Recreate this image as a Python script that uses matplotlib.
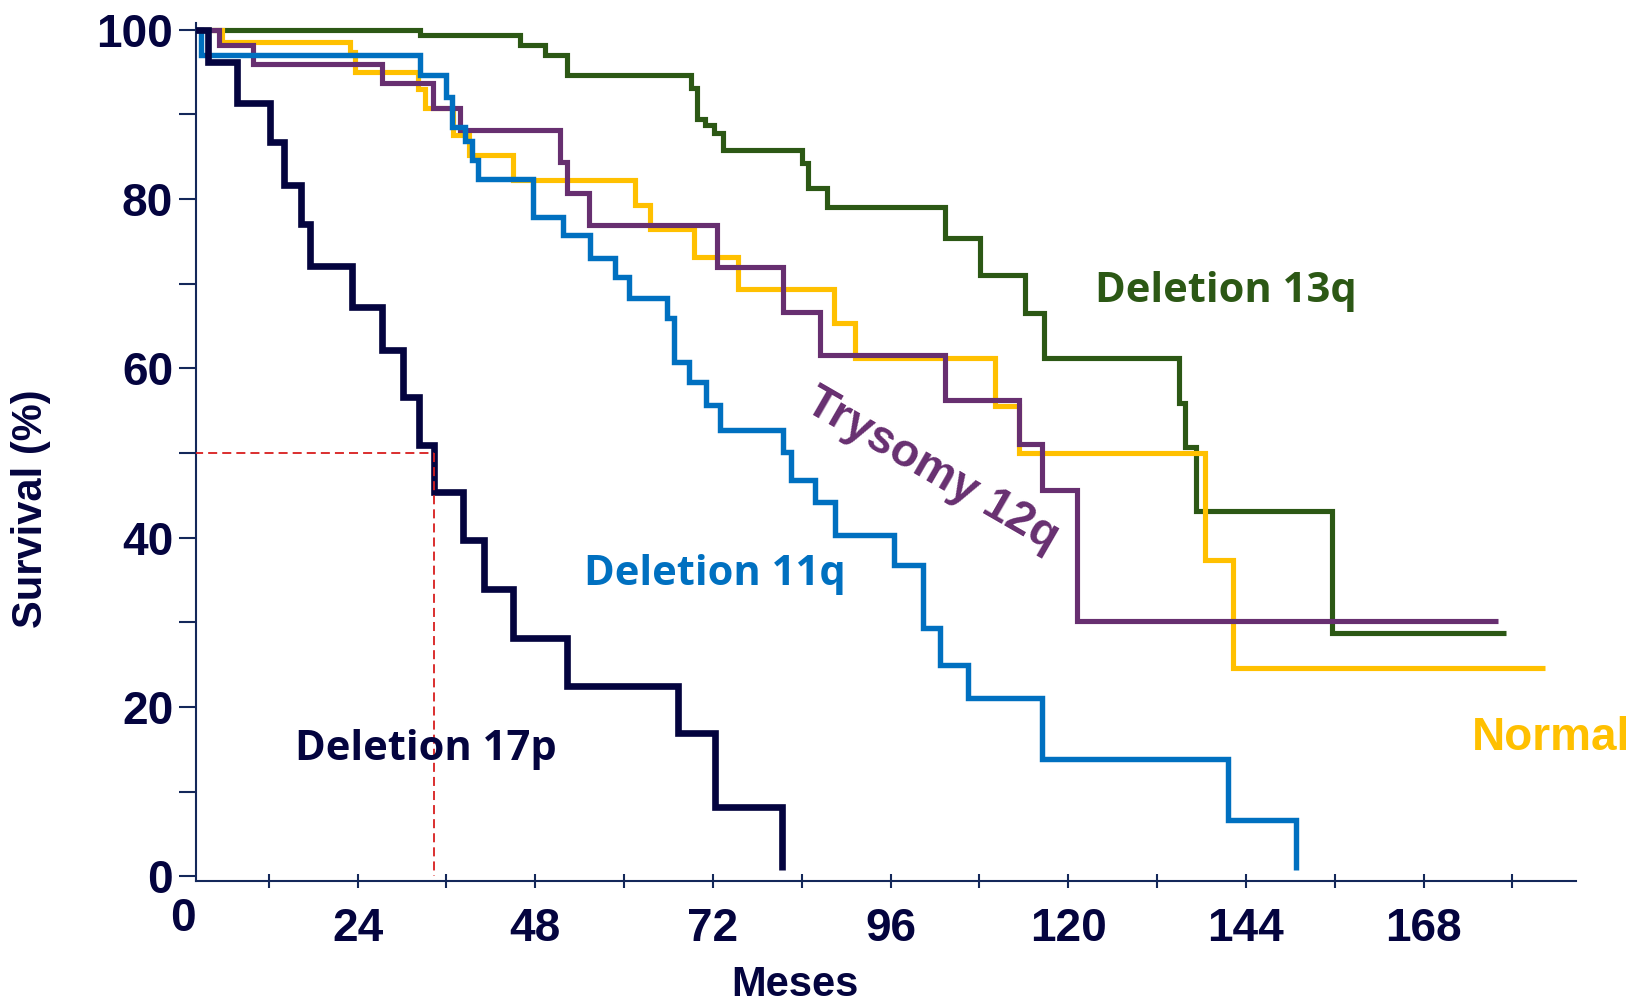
import numpy as np
import matplotlib
matplotlib.use("Agg")
import matplotlib.pyplot as plt
from matplotlib.ticker import FixedLocator, NullFormatter

# Kaplan-Meier overall survival by cytogenetic group: step times (months)
# and survival (%) right after each step.
del13q_t = [0, 32.4, 45.9, 49.3, 52.3, 69.1, 69.8, 70.9, 72.1, 73.3, 84.0, 84.8,
            87.4, 103.4, 108.1, 114.2, 116.7, 134.9, 135.8, 137.2, 155.6, 179.1]
del13q_s = [100, 99.4, 98.2, 97.0, 94.6, 93.1, 89.5, 88.7, 87.8, 85.8, 84.2, 81.3,
            79.1, 75.4, 71.0, 66.5, 61.2, 55.9, 50.7, 43.1, 28.7, 28.7]

normal_t = [0, 5.7, 23.0, 23.6, 32.1, 33.1, 36.9, 39.0, 45.0, 61.5, 63.5, 69.4,
            75.4, 88.3, 91.2, 110.1, 113.3, 138.5, 142.3, 184.4]
normal_s = [100, 98.6, 97.4, 95.0, 93.0, 90.7, 87.6, 85.2, 82.2, 79.3, 76.5, 73.2,
            69.4, 65.3, 61.2, 55.5, 50.0, 37.4, 24.6, 24.6]

tri12_t = [0, 5.3, 9.8, 27.3, 34.2, 37.8, 51.4, 52.3, 55.2, 72.5, 81.5, 86.5,
           103.4, 113.3, 116.4, 121.2, 178.1]
tri12_s = [100, 98.2, 96.0, 93.7, 90.8, 88.2, 84.4, 80.7, 76.9, 72.0, 66.7, 61.6,
           56.3, 51.1, 45.6, 30.1, 30.1]

del11q_t = [0, 2.9, 32.4, 36.0, 36.7, 38.5, 39.4, 40.3, 47.7, 51.8, 55.4, 58.8,
            60.7, 65.8, 66.8, 68.7, 71.1, 73.0, 81.5, 82.6, 85.8, 88.5, 96.4,
            100.4, 102.7, 106.5, 116.5, 141.6, 150.8]
del11q_s = [100, 97.0, 94.6, 92.1, 88.5, 86.8, 84.6, 82.4, 77.9, 75.7, 73.0, 70.8,
            68.3, 65.9, 60.8, 58.4, 55.7, 52.7, 50.1, 46.8, 44.2, 40.3, 36.8,
            29.3, 24.9, 21.0, 13.9, 6.6, 0.7]

del17p_t = [0, 3.8, 7.7, 12.1, 14.1, 16.4, 17.5, 23.3, 27.3, 30.1, 32.3, 34.3,
            38.2, 41.1, 45.0, 52.3, 67.3, 72.3, 81.3]
del17p_s = [100, 96.2, 91.4, 86.7, 81.7, 77.1, 72.1, 67.3, 62.2, 56.6, 50.9, 45.4,
            39.7, 33.9, 28.1, 22.5, 16.9, 8.2, 0.7]

median_17p = 34.3
median_level = 50

x_major = [24, 48, 72, 96, 120, 144, 168]
x_minor = [12, 36, 60, 84, 108, 132, 156, 180]
y_major = [0, 20, 40, 60, 80, 100]
y_minor = [10, 30, 50, 70, 90]

NAVY = "#04043f"
AXIS = "#14285a"
GREEN = "#2c5815"
GOLD = "#ffc000"
PURPLE = "#672f70"
BLUE = "#0070c0"
RED = "#d81e1e"

W, H = 1639, 1006
fig = plt.figure(figsize=(W / 100, H / 100), dpi=100)
ax = fig.add_axes([195.7 / W, 1 - 881 / H, (1576 - 195.7) / W, (881 - 23.3) / H])
ax.set_xlim(2.12, 188.6)
ax.set_ylim(-0.57, 100.76)

line_kw = dict(where="post", solid_joinstyle="miter", solid_capstyle="butt")
ax.step(del13q_t, del13q_s, color=GREEN, lw=3.7, zorder=3, **line_kw)
ax.step(normal_t, normal_s, color=GOLD, lw=3.7, zorder=4, **line_kw)
ax.step(tri12_t, tri12_s, color=PURPLE, lw=3.7, zorder=5, **line_kw)
ax.step(del11q_t, del11q_s, color=BLUE, lw=3.9, zorder=6, **line_kw)
ax.step(del17p_t, del17p_s, color=NAVY, lw=4.8, zorder=7, **line_kw)

# median survival guide for deletion 17p
dash = (0, (5.0, 2.8))
ax.plot([0, median_17p], [median_level, median_level], color=RED, lw=1.3,
        linestyle=dash, zorder=8)
ax.plot([median_17p, median_17p], [median_level, 0], color=RED, lw=1.3,
        linestyle=dash, zorder=8)

for side in ("top", "right"):
    ax.spines[side].set_visible(False)
for side in ("left", "bottom"):
    ax.spines[side].set_color(AXIS)
    ax.spines[side].set_linewidth(1.5)

tick_font = dict(family="Liberation Sans", weight="bold", size=33)
ax.xaxis.set_major_locator(FixedLocator(x_major))
ax.xaxis.set_minor_locator(FixedLocator(x_minor))
ax.yaxis.set_major_locator(FixedLocator(y_major))
ax.yaxis.set_minor_locator(FixedLocator(y_minor))
ax.xaxis.set_minor_formatter(NullFormatter())
ax.yaxis.set_minor_formatter(NullFormatter())
ax.set_xticklabels([str(v) for v in x_major], fontdict=tick_font, color=NAVY)
ax.set_yticklabels([str(v) for v in y_major], fontdict=tick_font, color=NAVY)
ax.tick_params(axis="x", which="both", direction="inout", length=10, width=1.5,
               color=AXIS, pad=14)
ax.tick_params(axis="y", which="both", direction="out", length=12.2, width=1.5,
               color=AXIS, pad=4)

# origin label on the time axis
fig.text(183 / W, 1 - 931 / H, "0", ha="center", va="baseline", color=NAVY,
         **tick_font)

lab_font = dict(family="Liberation Sans", weight="bold", size=30)
fig.text(31 / W, 1 - 509 / H, "Survival (%)", rotation=90, ha="center",
         va="center", color=NAVY, **lab_font)
fig.text(794.5 / W, 1 - 985 / H, "Meses", ha="center", va="center",
         color=NAVY, **lab_font)

grp_font = dict(family="Open Sans", weight="bold", size=30)
fig.text(1225.8 / W, 1 - 301.7 / H, "Deletion 13q", ha="center", va="baseline",
         color=GREEN, **grp_font)
fig.text(715 / W, 1 - 585 / H, "Deletion 11q", ha="center", va="baseline",
         color=BLUE, **grp_font)
fig.text(425.4 / W, 1 - 760 / H, "Deletion 17p", ha="center", va="baseline",
         color=NAVY, **grp_font)
fig.text(1551 / W, 1 - 750 / H, "Normal", ha="center", va="baseline",
         color=GOLD, family="Liberation Sans", weight="bold", size=33)
fig.text(932.5 / W, 1 - 470 / H, "Trysomy 12q", ha="center", va="center",
         rotation=-30, rotation_mode="anchor", color=PURPLE,
         family="Liberation Sans", weight="bold", size=33.5)

fig.savefig("out.png", dpi=100)
